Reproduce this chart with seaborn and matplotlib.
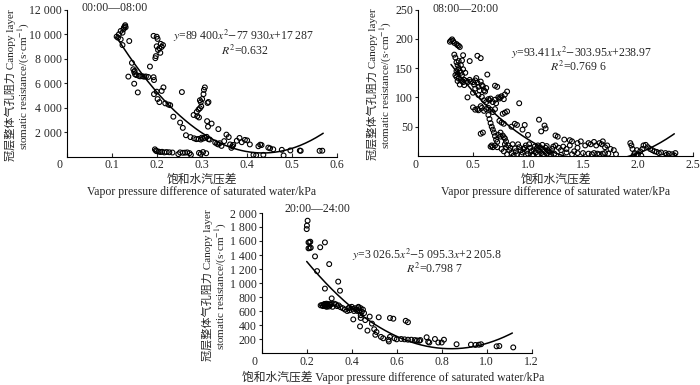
import numpy as np
import pandas as pd
import matplotlib
matplotlib.use("Agg")
import matplotlib.pyplot as plt
from matplotlib.transforms import ScaledTranslation
import seaborn as sns

# ---------------- data ----------------
# Panel 1: 00:00-08:00
p1_x = [0.111, 0.114, 0.116, 0.120, 0.124, 0.126, 0.127, 0.129, 0.130, 0.131, 0.120, 0.124, 0.139,
        0.145, 0.137, 0.148, 0.150, 0.151, 0.152, 0.155, 0.160, 0.163, 0.168, 0.172, 0.176, 0.181, 0.150, 0.158,
        0.185, 0.193, 0.194, 0.194, 0.200, 0.202, 0.206, 0.211, 0.215,
        0.193, 0.200, 0.202, 0.200, 0.203, 0.206, 0.208, 0.211, 0.214, 0.209, 0.198, 0.197,
        0.219, 0.226, 0.230, 0.237, 0.252, 0.258, 0.256, 0.265,
        0.275, 0.283, 0.288, 0.293, 0.298, 0.303, 0.307, 0.311, 0.315, 0.300,
        0.282, 0.289, 0.293, 0.296, 0.294, 0.298, 0.296, 0.299, 0.301, 0.304, 0.305, 0.307, 0.313, 0.315,
        0.312, 0.314, 0.322, 0.337, 0.290,
        0.318, 0.330, 0.334, 0.337, 0.340, 0.344, 0.355, 0.363, 0.366, 0.368, 0.370, 0.378, 0.384, 0.389,
        0.396, 0.401, 0.407, 0.350, 0.360,
        0.196, 0.198, 0.200, 0.204, 0.208, 0.212, 0.217, 0.222, 0.228, 0.235, 0.248, 0.252, 0.258, 0.263,
        0.268, 0.273, 0.276, 0.294, 0.298, 0.303, 0.310,
        0.415, 0.421, 0.426, 0.430, 0.433, 0.437, 0.448, 0.452, 0.459, 0.478, 0.482, 0.497, 0.518, 0.520,
        0.562, 0.568]
p1_y = [9790, 9700, 9980, 10250, 10110, 10380, 10520, 10620, 10720, 10550, 9570, 9100, 9430,
        7650, 6530, 7130, 6900, 7000, 6720, 6650, 6600, 6550, 6560, 6520, 6540, 6500, 5950, 5240,
        7350, 6480, 6250, 5100, 5300, 4700, 4450, 5360, 5650,
        9850, 9780, 9600, 9000, 8700, 8850, 8470, 8950, 9100, 9200, 8200, 8030,
        4350, 4250, 4200, 3260, 2780, 2350, 5270, 1750,
        1600, 1500, 1430, 1450, 1400, 1480, 1540, 1620, 1430, 1550,
        3400, 3650, 3850, 3950, 3200, 4450, 4600, 4100, 4700, 5100, 5450, 5650, 4380, 4460,
        2900, 2450, 2700, 2250, 3300,
        1400, 1150, 1060, 1000, 1100, 880, 1800, 1000, 720, 850, 960, 1300, 1530, 1180,
        1370, 1330, 1000, 1270, 1600,
        600, 500, 450, 420, 380, 400, 350, 380, 360, 340, 210, 350, 320, 330,
        350, 290, 150, 310, 230, 380, 280,
        150, 120, 850, 980, 950, 150, 740, 680, 600, 560, 100, 510, 500, 480,
        480, 490]

# Panel 2: 08:00-20:00
p2_x = [0.29, 0.30, 0.31, 0.32, 0.33, 0.35, 0.37, 0.38, 0.36,
        0.33, 0.34, 0.35, 0.36, 0.37, 0.38, 0.35, 0.36, 0.34, 0.35, 0.37, 0.39, 0.40, 0.41, 0.42, 0.38,
        0.40, 0.41, 0.39, 0.41, 0.40, 0.37, 0.43, 0.44, 0.45, 0.36, 0.39, 0.42, 0.45, 0.47,
        0.47, 0.48, 0.50, 0.51, 0.52, 0.53, 0.54, 0.55, 0.56, 0.57, 0.58, 0.59, 0.60, 0.61, 0.62, 0.50,
        0.52, 0.54, 0.57, 0.63, 0.55, 0.58, 0.60, 0.62, 0.64,
        0.50, 0.52, 0.54, 0.55, 0.57, 0.58, 0.60, 0.62, 0.64, 0.66, 0.68, 0.70,
        0.65, 0.66, 0.68, 0.70, 0.71, 0.73, 0.74, 0.76, 0.78, 0.79, 0.81, 0.70, 0.72, 0.75, 0.77, 0.79,
        0.81, 0.92, 0.74,
        0.64, 0.65, 0.66, 0.67, 0.68, 0.69, 0.70, 0.71, 0.72, 0.73, 0.75, 0.77, 0.78, 0.79, 0.80, 0.57,
        0.59, 0.66, 0.67, 0.68, 0.70, 0.72, 0.75, 0.76, 0.78,
        0.85, 0.88, 0.90, 0.97, 1.00, 1.10, 1.15, 1.16, 1.12, 0.95,
        0.76, 0.78, 0.80, 0.82, 0.83, 0.85, 0.86, 0.88, 0.89, 0.90, 0.92, 0.93, 0.95, 0.96, 0.98, 0.99,
        1.00, 1.02, 1.03, 1.04, 1.05, 1.06, 1.07, 1.08, 1.09, 1.10, 1.11, 1.12, 1.13, 1.14, 1.15, 1.16,
        1.17, 1.18, 1.19, 1.20, 1.22, 1.24, 0.81, 0.84, 0.87, 0.91, 0.94, 0.97, 1.01, 1.05, 1.09, 1.13,
        1.17, 1.21, 0.79, 1.23,
        1.25, 1.27, 1.33, 1.38, 1.40, 1.45, 1.48, 1.25, 1.28, 1.30, 1.32, 1.35, 1.38, 1.42, 1.45, 1.50,
        1.52, 1.55, 1.57, 1.60, 1.62, 1.65, 1.67, 1.68, 1.70, 1.72, 1.75, 1.78, 1.80, 1.55, 1.58, 1.60,
        1.63, 1.65, 1.68, 1.70, 1.73, 1.40, 1.45, 1.35, 1.30, 1.93, 1.94, 1.95, 1.97, 1.99, 2.00, 2.02,
        2.04, 2.05, 2.07, 2.09, 2.11, 2.13, 2.15, 2.17, 2.19, 2.21, 2.25, 2.28, 2.31, 2.34, 2.26, 2.33,
        2.03, 1.96]
p2_y = [195, 197, 199, 196, 193, 191, 188, 186, 189,
        173, 168, 160, 155, 150, 145, 145, 140, 138, 135, 132, 130, 128, 126, 130, 122,
        138, 148, 155, 172, 163, 162, 142, 128, 126, 128, 142, 121, 100, 162,
        130, 127, 126, 122, 129, 133, 125, 118, 112, 127, 121, 119, 112, 110, 116, 108,
        115, 171, 167, 139, 104, 101, 95, 92, 97,
        83, 79, 80, 78, 85, 82, 77, 80, 82, 79, 75, 80,
        95, 98, 92, 96, 90, 100, 98, 102, 97, 105, 110, 120, 118, 100, 72, 74,
        76, 90, 60,
        70, 63, 56, 50, 45, 40, 34, 28, 24, 36, 33, 35, 32, 30, 25, 38,
        40, 16, 18, 15, 18, 15, 40, 57, 55,
        50, 55, 53, 53, 36, 62, 52, 47, 42, 45,
        12, 8, 15, 18, 10, 5, 20, 13, 8, 3, 15, 10, 6, 12, 18, 9,
        4, 14, 8, 2, 11, 16, 6, 13, 3, 9, 15, 5, 11, 2, 8, 14,
        4, 10, 1, 7, 12, 4, 3, 14, 1, 20, 2, 14, 20, 1, 18, 19,
        17, 2, 20, 16,
        35, 33, 28, 27, 25, 22, 25, 18, 14, 10, 16, 12, 18, 8, 14, 5,
        18, 22, 20, 24, 18, 22, 20, 25, 15, 18, 12, 10, 3, 4, 3, 5,
        4, 3, 4, 5, 4, 3, 5, 6, 2, 22, 18, 12, 5, 10, 3, 8,
        12, 18, 19, 15, 12, 10, 8, 7, 5, 6, 5, 4, 3, 5, 2, 1,
        0.5, 1]

# Panel 3: 20:00-24:00
p3_x = [0.200, 0.201, 0.204, 0.208, 0.212, 0.216, 0.208, 0.213, 0.218, 0.237, 0.260, 0.281, 0.246,
        0.300, 0.340, 0.348, 0.281, 0.311,
        0.262, 0.268, 0.272, 0.276, 0.279, 0.282, 0.285, 0.288, 0.291, 0.294, 0.297, 0.300, 0.305,
        0.310, 0.315, 0.322, 0.330, 0.335, 0.342, 0.350, 0.290, 0.283,
        0.370, 0.380, 0.385, 0.390, 0.400, 0.405, 0.410, 0.415, 0.420, 0.425, 0.430, 0.435, 0.440,
        0.445, 0.450, 0.455, 0.440, 0.430, 0.390, 0.360,
        0.407, 0.437, 0.440, 0.460, 0.480, 0.490, 0.500, 0.505, 0.520, 0.530, 0.540, 0.470, 0.510,
        0.570, 0.585, 0.640, 0.650, 0.563, 0.565, 0.570, 0.590, 0.600, 0.620, 0.635, 0.650, 0.665,
        0.680, 0.690, 0.700, 0.705, 0.733, 0.740, 0.745, 0.770, 0.785, 0.800, 0.810, 0.866, 0.930,
        0.950, 0.965, 0.975, 1.044, 1.056, 1.118]
p3_y = [1770, 1820, 1890, 1580, 1580, 1590, 1495, 1500, 1505, 1380, 1510, 1580, 1170,
        1270, 1020, 890, 920, 780,
        680, 685, 670, 690, 700, 680, 665, 705, 690, 675, 700, 665, 690,
        700, 660, 705, 695, 670, 680, 655, 660, 700,
        620, 600, 640, 610, 660, 630, 600, 640, 620, 600, 650, 610, 640,
        590, 620, 570, 540, 660, 650, 640,
        480, 380, 500, 470, 520, 420, 340, 260, 510, 230, 210, 320, 300,
        500, 490, 460, 440, 190, 165, 230, 210, 195, 200, 195, 190, 190,
        185, 180, 175, 185, 225, 160, 150, 200, 150, 150, 190, 125, 120,
        115, 118, 125, 95, 100, 80]

# fitted equations shown on the chart (coefficients a, b, c) and fitted x-range
p1_coef = [89400, -77930, 17287]
p2_coef = [93.411, -303.95, 238.97]
p3_coef = [3026.5, -5095.3, 2205.8]
p1_range = [0.111, 0.57]
p2_range = [0.30, 2.33]
p3_range = [0.20, 1.114]

titles = ["00:00\u201408:00", "08:00\u201420:00", "20:00\u201424:00"]
eqs = [r"$y$=89 400$x^2$$-$77 930$x$+17 287",
       r"$y$=93.411$x^2$$-$303.95$x$+238.97",
       r"$y$=3 026.5$x^2$$-$5 095.3$x$+2 205.8"]
r2s = [r"$R^2$=0.632", r"$R^2$=0.769 6", r"$R^2$=0.798 7"]

p1_xticks = [0, 0.1, 0.2, 0.3, 0.4, 0.5, 0.6]
p1_xlabels = ["0", "0.1", "0.2", "0.3", "0.4", "0.5", "0.6"]
p1_yticks = [2000, 4000, 6000, 8000, 10000, 12000]
p2_xticks = [0, 0.5, 1.0, 1.5, 2.0, 2.5]
p2_xlabels = ["0", "0.5", "1.0", "1.5", "2.0", "2.5"]
p2_yticks = [50, 100, 150, 200, 250]
p3_xticks = [0, 0.2, 0.4, 0.6, 0.8, 1.0, 1.2]
p3_xlabels = ["0", "0.2", "0.4", "0.6", "0.8", "1.0", "1.2"]
p3_yticks = [200, 400, 600, 800, 1000, 1200, 1400, 1600, 1800, 2000]

ylab1 = "冠层整体气孔阻力 Canopy layer"
ylab2 = "stomatic resistance/(s\u00b7cm$^{-1}$)"
xlab_cn = "饱和水汽压差"
xlab_en = "Vapor pressure difference of saturated water/kPa"

# ---------------- style ----------------
sns.set_style("ticks")
plt.rcParams['font.family'] = ['Liberation Serif', 'Noto Sans CJK SC']
plt.rcParams['mathtext.fontset'] = 'stix'
plt.rcParams['axes.linewidth'] = 0.8

W, H = 700, 385
fig = plt.figure(figsize=(7, 3.85), dpi=100)


def box(l, t, r, b):
    return [l / W, 1 - b / H, (r - l) / W, (b - t) / H]


def ftext(x, y, s, **kw):
    fig.text(x / W, 1 - y / H, s, **kw)


def fmt(v):
    return f"{v:,}".replace(",", " ")


def panel(rect, xs, ys, coef, rng, xlim, ylim, xticks, xlabels, yticks, zero_shift):
    ax = fig.add_axes(rect)
    sns.scatterplot(x=xs, y=ys, ax=ax, marker="o", s=12, facecolor="none",
                    edgecolor="black", linewidth=0.8, zorder=3)
    xx = np.linspace(rng[0], rng[1], 200)
    yy = np.polyval(coef, xx)
    sns.lineplot(x=xx, y=yy, ax=ax, color="black", linewidth=1.1, zorder=4)
    ax.set_xlim(*xlim)
    ax.set_ylim(*ylim)
    ax.set_xticks(xticks)
    ax.set_xticklabels(xlabels)
    ax.set_yticks(yticks)
    ax.set_yticklabels([fmt(v) for v in yticks])
    ax.tick_params(axis="x", direction="in", length=3, width=0.8, labelsize=8.5, pad=2)
    ax.tick_params(axis="y", direction="out", length=2.5, width=0.8, labelsize=8.5, pad=1)
    for s in ["top", "right"]:
        ax.spines[s].set_visible(False)
    for s in ["left", "bottom"]:
        ax.spines[s].set_color("black")
    ax.set_xlabel("")
    ax.set_ylabel("")
    lab0 = ax.xaxis.get_major_ticks()[0].label1
    lab0.set_transform(lab0.get_transform() +
                       ScaledTranslation(-zero_shift / 100, 0, fig.dpi_scale_trans))
    return ax


ax1 = panel(box(66.7, 9.5, 336.7, 156.7), p1_x, p1_y, p1_coef, p1_range,
            (0, 0.6), (0, 12000), p1_xticks, p1_xlabels, p1_yticks, 7)
ax2 = panel(box(418, 9.5, 693, 156), p2_x, p2_y, p2_coef, p2_range,
            (0, 2.5), (0, 250), p2_xticks, p2_xlabels, p2_yticks, 3)
ax3 = panel(box(261.7, 213, 531.7, 353), p3_x, p3_y, p3_coef, p3_range,
            (0, 1.2), (0, 2000), p3_xticks, p3_xlabels, p3_yticks, 7)

fs = 8.5
# titles
ftext(115, 8, titles[0], ha="center", va="center", fontsize=fs)
ftext(466, 9, titles[1], ha="center", va="center", fontsize=fs)
ftext(317, 209, titles[2], ha="center", va="center", fontsize=fs)
# equations
ftext(244, 36, eqs[0], ha="center", va="center", fontsize=fs)
ftext(245, 51, r2s[0], ha="center", va="center", fontsize=fs)
ftext(582, 53, eqs[1], ha="center", va="center", fontsize=fs)
ftext(578, 67, r2s[1], ha="center", va="center", fontsize=fs)
ftext(427, 255, eqs[2], ha="center", va="center", fontsize=fs)
ftext(434, 269, r2s[2], ha="center", va="center", fontsize=fs)
# x labels
ftext(202, 180, xlab_cn, ha="center", va="center", fontsize=fs)
ftext(202, 192, xlab_en, ha="center", va="center", fontsize=fs)
ftext(556, 180, xlab_cn, ha="center", va="center", fontsize=fs)
ftext(556, 192, xlab_en, ha="center", va="center", fontsize=fs)
ftext(393, 377, xlab_cn + " " + xlab_en, ha="center", va="center", fontsize=fs)
# y labels
yfs = 8
ftext(10.5, 85, ylab1, ha="center", va="center", rotation=90, fontsize=yfs)
ftext(24, 86, ylab2, ha="center", va="center", rotation=90, fontsize=yfs)
ftext(372.5, 84, ylab1, ha="center", va="center", rotation=90, fontsize=yfs)
ftext(386.5, 85, ylab2, ha="center", va="center", rotation=90, fontsize=yfs)
ftext(207.5, 285, ylab1, ha="center", va="center", rotation=90, fontsize=yfs)
ftext(221.5, 286, ylab2, ha="center", va="center", rotation=90, fontsize=yfs)

fig.savefig("out.png", dpi=100)
